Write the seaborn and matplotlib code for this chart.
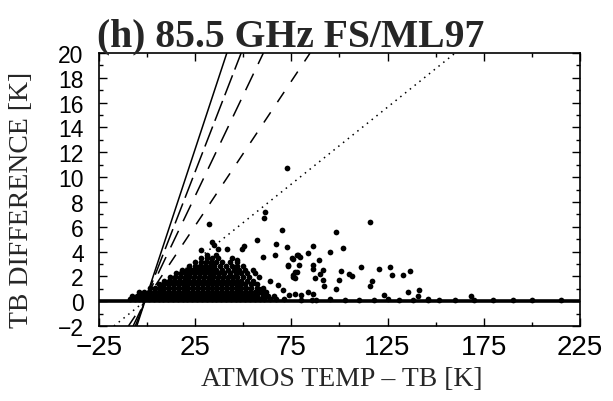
import matplotlib
matplotlib.use("Agg")
import matplotlib.pyplot as plt
import seaborn as sns
import pandas as pd
from matplotlib.ticker import MultipleLocator, FixedLocator

# ---------------- data ----------------
# dense cluster, written row by row (row height, x positions of the dots)
row_y = [0.15, 0.45, 0.75, 1.05, 1.35, 1.65, 1.95, 2.25, 2.55, 2.85, 3.15, 3.45]
row_x = [
    [-9, -6.5, -4, -1.5, 1, 3.5, 6, 8.5, 11, 13.5, 16, 18.5, 21, 23.5, 26, 28.5, 31, 33.5, 36, 38.5,
     41, 43.5, 46, 48.5, 51, 53.5, 56, 58.5, 61, 64, 67, 71],
    [-8, -5.5, -3, -0.5, 2, 4.5, 7, 9.5, 12, 14.5, 17, 19.5, 22, 24.5, 27, 29.5, 32, 34.5, 37, 39.5,
     42, 44.5, 47, 49.5, 52, 54.5, 57, 60, 63, 66],
    [-4, -1.5, 1, 3.5, 6, 8.5, 11, 13.5, 16, 18.5, 21, 23.5, 26, 28.5, 31, 33.5, 36, 38.5, 41, 43.5,
     46, 48.5, 51, 53.5, 56, 59, 62],
    [1.5, 4, 6.5, 9, 11.5, 14, 16.5, 19, 21.5, 24, 26.5, 29, 31.5, 34, 36.5, 39, 41.5, 44, 46.5, 49,
     51.5, 54, 57, 60],
    [6, 8.5, 11, 13.5, 16, 18.5, 21, 23.5, 26, 28.5, 31, 33.5, 36, 38.5, 41, 43.5, 46, 48.5, 51, 54, 57],
    [9, 11.5, 14, 16.5, 19, 21.5, 24, 26.5, 29, 31.5, 34, 36.5, 39, 41.5, 44, 46.5, 49, 52, 55],
    [12, 14.5, 17, 19.5, 22, 24.5, 27, 29.5, 32, 34.5, 37, 39.5, 42, 44.5, 47, 50, 53, 58],
    [15, 17.5, 20, 22.5, 25, 27.5, 30, 32.5, 35, 37.5, 40, 43, 46, 49, 52, 56],
    [18, 21, 23.5, 26, 28.5, 31, 33.5, 36, 39, 42, 45, 48, 51, 55],
    [22, 25, 27.5, 30, 32.5, 35, 38, 41, 44, 47, 50],
    [25, 28, 30.5, 33, 36, 39, 43, 47],
    [28, 31, 34, 37],
]

# scattered points
sparse_x = [72.6, 61.3, 61.0, 32.2, 70.0, 57.0, 66.8, 72.6, 50.4, 49.2, 33.6, 28.0, 35.0, 37.0,
            41.4, 31.0, 36.0, 44.0, 46.6, 60.4, 66.5, 75.8, 77.8, 73.2, 76.9, 75.8,
            115.9, 98.0, 86.4, 102.0, 95.0, 83.8, 78.6, 75.2, 89.5, 79.0, 86.0, 86.3,
            111.2, 120.4, 126.2, 136.6, 133.2, 127.4, 100.8, 105.0, 106.3, 91.6, 89.9, 87.3,
            91.6, 92.1, 99.9, 76.9, 98.0, 116.7, 115.9, 123.1, 135.8, 141.5, 140.6, 145.8,
            168.3, 74.0, 77.0, 80.0, 83.8, 86.4, 85.5, 60.4, 58.7, 79.5, 73.4, 77.7, 76.0,
            68.0, 64.0, 70.5, 55.0, 58.0]
sparse_y = [10.7, 7.2, 6.7, 6.2, 5.7, 4.9, 4.6, 4.4, 4.45, 4.2, 4.8, 4.1, 4.5, 4.2,
            4.2, 3.7, 3.7, 3.5, 3.3, 3.6, 3.7, 3.4, 3.7, 2.9, 2.35, 1.95,
            6.4, 5.6, 4.45, 4.3, 4.0, 3.9, 3.7, 3.5, 3.3, 2.9, 2.9, 2.6,
            2.75, 2.6, 2.75, 2.4, 2.1, 2.1, 2.4, 2.2, 2.0, 2.5, 2.2, 1.9,
            1.7, 1.2, 1.7, 1.9, 0.95, 1.6, 1.2, 0.47, 0.7, 0.87, 0.39, 0.15,
            0.39, 0.5, 0.6, 0.5, 0.74, 0.6, 0.06, 0.87, 0.74, 3.56, 2.8, 2.35, 2.1,
            1.3, 1.6, 0.9, 1.5, 1.0]

# points along the zero line (long tail)
tail_x = [80, 88, 95, 103, 110, 118, 125, 131, 138, 146, 152, 160, 170, 180, 190, 200, 215]
tail_y = [0.12, 0.1, 0.15, 0.1, 0.12, 0.1, 0.15, 0.12, 0.1, 0.12, 0.1, 0.1, 0.08, 0.1, 0.08, 0.1, 0.08]

# reference lines through a common pivot
pivot = (-1.1, 0.0)
line_slopes = [0.47, 0.40, 0.325, 0.233, 0.124]
line_styles = ["-", (0, (14, 4)), (0, (12, 7)), (0, (8, 8)), (0, (1, 3))]

x_ticks = [-25, 25, 75, 125, 175, 225]
y_ticks = [-2, 0, 2, 4, 6, 8, 10, 12, 14, 16, 18, 20]

title = "(h) 85.5 GHz FS/ML97"
x_label = "ATMOS TEMP \u2013 TB [K]"
y_label = "TB DIFFERENCE [K]"

# ---------------- plot ----------------
sns.set_style("ticks")
plt.rcParams["font.family"] = ["Liberation Sans", "DejaVu Sans"]

dense_x = [x for xs in row_x for x in xs]
dense_y = [y for y, xs in zip(row_y, row_x) for _ in xs]
df = pd.DataFrame({"x": dense_x + sparse_x + tail_x,
                   "y": dense_y + sparse_y + tail_y})

fig = plt.figure(figsize=(6.13, 4.02), dpi=100)
ax = fig.add_axes([0.1615, 0.1866, 0.7845, 0.679])

sns.scatterplot(data=df, x="x", y="y", ax=ax, color="black", s=17,
                edgecolor="black", linewidth=0, legend=False, zorder=3)

ax.axhline(0, color="black", lw=2.6, zorder=4)
for s, ls in zip(line_slopes, line_styles):
    ax.axline(pivot, slope=s, color="black", lw=1.1, linestyle=ls, zorder=2)

ax.set_xlim(-25, 225)
ax.set_ylim(-2, 20)
ax.xaxis.set_major_locator(FixedLocator(x_ticks))
ax.xaxis.set_minor_locator(MultipleLocator(25))
ax.yaxis.set_major_locator(FixedLocator(y_ticks))
ax.yaxis.set_minor_locator(MultipleLocator(1))
ax.tick_params(which="both", direction="in", top=True, right=True, width=1.0,
               colors="black")
ax.tick_params(which="major", length=6)
ax.tick_params(which="minor", length=3)
ax.tick_params(axis="x", which="major", labelsize=20, pad=6)
ax.tick_params(axis="y", which="major", labelsize=16.5, pad=11)
for sp in ax.spines.values():
    sp.set_visible(True)
    sp.set_linewidth(1.2)
    sp.set_color("black")

ax.set_xlabel(x_label, family="Liberation Serif", fontsize=20)
ax.set_ylabel(y_label, family="Liberation Serif", fontsize=20)
ax.xaxis.set_label_coords(0.505, -0.145)
ax.yaxis.set_label_coords(-0.135, 0.465)
fig.text(0.158, 0.885, title, family="Liberation Serif", fontweight="bold",
         fontsize=28.5, ha="left", va="baseline")

fig.savefig("out.png", dpi=100)
